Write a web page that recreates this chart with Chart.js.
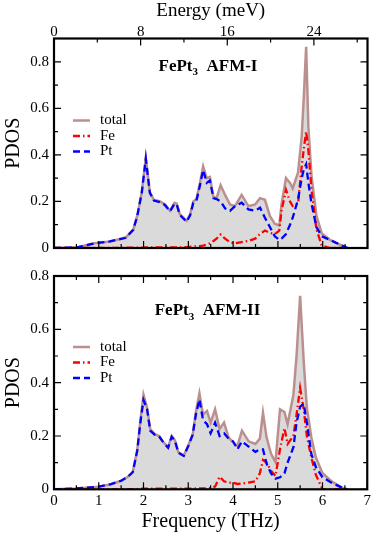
<!DOCTYPE html>
<html>
<head>
<meta charset="utf-8">
<script src="https://cdn.jsdelivr.net/npm/chart.js@4"></script>
<style>
  body { margin: 0; background: #fff; }
  canvas { position: absolute; left: 0; }
  #topChart { top: 0; }
  #bottomChart { top: 262px; }
</style>
</head>
<body>
<canvas id="topChart" width="374" height="262"></canvas>
<canvas id="bottomChart" width="374" height="274"></canvas>
<script>
// frequency grid (THz) and PDOS values, panel AFM-I
const freqTop = [0, 0.5, 0.9, 1.25, 1.6, 1.77, 1.86, 1.96, 2.05, 2.14, 2.23, 2.37, 2.48, 2.59, 2.69, 2.74, 2.81, 2.96, 3.04, 3.11, 3.18, 3.26, 3.33, 3.41, 3.48, 3.56, 3.63, 3.72, 3.82, 3.93, 4.04, 4.19, 4.34, 4.49, 4.6, 4.71, 4.82, 4.93, 5.03, 5.08, 5.18, 5.27, 5.33, 5.45, 5.53, 5.58, 5.63, 5.68, 5.75, 5.86, 5.98, 6.16, 6.3, 6.46, 6.55];
const totalTop = [0, 0.002, 0.02, 0.028, 0.045, 0.079, 0.14, 0.24, 0.387, 0.24, 0.207, 0.2, 0.187, 0.16, 0.194, 0.19, 0.145, 0.117, 0.145, 0.2, 0.21, 0.28, 0.35, 0.3, 0.305, 0.22, 0.214, 0.27, 0.228, 0.187, 0.18, 0.228, 0.18, 0.187, 0.214, 0.207, 0.138, 0.104, 0.097, 0.187, 0.3, 0.28, 0.256, 0.325, 0.477, 0.657, 0.864, 0.52, 0.31, 0.138, 0.062, 0.035, 0.022, 0.008, 0];
const feTop = [0, 0, 0, 0, 0.001, 0.001, 0.002, 0.002, 0.003, 0.003, 0.003, 0.003, 0.003, 0.003, 0.003, 0.003, 0.003, 0.004, 0.005, 0.006, 0.007, 0.008, 0.01, 0.015, 0.02, 0.03, 0.04, 0.058, 0.04, 0.025, 0.02, 0.025, 0.03, 0.04, 0.06, 0.075, 0.065, 0.06, 0.075, 0.16, 0.25, 0.2, 0.18, 0.19, 0.35, 0.43, 0.5, 0.42, 0.25, 0.08, 0.01, 0, 0, 0, 0];
const ptTop = [0, 0.002, 0.02, 0.028, 0.044, 0.078, 0.138, 0.238, 0.383, 0.237, 0.204, 0.197, 0.184, 0.157, 0.19, 0.187, 0.142, 0.113, 0.14, 0.194, 0.203, 0.27, 0.335, 0.28, 0.29, 0.214, 0.21, 0.2, 0.17, 0.16, 0.18, 0.195, 0.166, 0.16, 0.173, 0.13, 0.09, 0.05, 0.035, 0.04, 0.06, 0.1, 0.13, 0.21, 0.3, 0.34, 0.36, 0.28, 0.19, 0.09, 0.05, 0.035, 0.022, 0.008, 0];

// panel AFM-II
const freqBottom = [0, 0.5, 1.0, 1.25, 1.5, 1.65, 1.76, 1.86, 1.93, 2.0, 2.08, 2.15, 2.25, 2.35, 2.45, 2.55, 2.63, 2.7, 2.78, 2.9, 3.0, 3.1, 3.17, 3.25, 3.33, 3.42, 3.5, 3.6, 3.7, 3.8, 3.9, 4.0, 4.1, 4.2, 4.35, 4.5, 4.6, 4.67, 4.75, 4.85, 4.95, 5.05, 5.15, 5.22, 5.35, 5.42, 5.5, 5.58, 5.65, 5.75, 5.85, 6.0, 6.2, 6.45, 6.55];
const totalBottom = [0, 0.003, 0.01, 0.018, 0.032, 0.047, 0.065, 0.146, 0.257, 0.355, 0.306, 0.226, 0.207, 0.2, 0.176, 0.158, 0.2, 0.185, 0.139, 0.127, 0.164, 0.207, 0.29, 0.36, 0.28, 0.294, 0.25, 0.3, 0.226, 0.25, 0.195, 0.176, 0.163, 0.22, 0.18, 0.17, 0.19, 0.287, 0.195, 0.133, 0.102, 0.3, 0.29, 0.244, 0.355, 0.5, 0.726, 0.48, 0.306, 0.195, 0.12, 0.06, 0.03, 0.005, 0];
const feBottom = [0, 0, 0, 0, 0, 0, 0.001, 0.001, 0.002, 0.002, 0.002, 0.002, 0.002, 0.002, 0.002, 0.002, 0.002, 0.002, 0.002, 0.002, 0.002, 0.002, 0.003, 0.003, 0.003, 0.004, 0.005, 0.01, 0.047, 0.03, 0.025, 0.025, 0.02, 0.022, 0.025, 0.03, 0.06, 0.11, 0.1, 0.07, 0.05, 0.15, 0.23, 0.17, 0.2, 0.28, 0.38, 0.3, 0.2, 0.12, 0.055, 0, 0, 0, 0];
const ptBottom = [0, 0.003, 0.01, 0.018, 0.032, 0.047, 0.064, 0.145, 0.25, 0.335, 0.3, 0.22, 0.205, 0.198, 0.174, 0.156, 0.197, 0.183, 0.137, 0.125, 0.162, 0.205, 0.28, 0.337, 0.26, 0.244, 0.21, 0.25, 0.2, 0.21, 0.19, 0.18, 0.15, 0.18, 0.16, 0.14, 0.15, 0.15, 0.096, 0.06, 0.04, 0.045, 0.06, 0.1, 0.158, 0.25, 0.31, 0.32, 0.25, 0.133, 0.084, 0.045, 0.025, 0.005, 0];

// ticks
const freqTicks = [0, 1, 2, 3, 4, 5, 6, 7];
const freqMinor = [0.5, 1.5, 2.5, 3.5, 4.5, 5.5, 6.5];
const energyTicks = [0, 8, 16, 24];
const energyMinor = [4, 12, 20, 28];
const yTicks = [0, 0.2, 0.4, 0.6, 0.8];
const yMinor = [0.1, 0.3, 0.5, 0.7];

const seriesLabels = ["total", "Fe", "Pt"];
const MEV_PER_THZ = 4.13567;
const FONT = '"Liberation Serif", "DejaVu Serif", serif';

function pts(xs, ys) {
  return xs.map((x, i) => ({ x: x, y: ys[i] }));
}

// frame, inward ticks, panel title, legend
const framePlugin = {
  id: "frame",
  afterDraw(chart, args, o) {
    const { ctx, chartArea: a, scales } = chart;
    const xs = scales.x, ys = scales.y;
    ctx.save();
    ctx.strokeStyle = "#000";
    ctx.lineWidth = 1.2;
    const MAJ = 7, MIN = 4;
    function vt(px, len) {
      ctx.beginPath();
      ctx.moveTo(px, a.bottom); ctx.lineTo(px, a.bottom - len);
      if (!o.topEnergy) { ctx.moveTo(px, a.top); ctx.lineTo(px, a.top + len); }
      ctx.stroke();
    }
    freqTicks.forEach(v => vt(xs.getPixelForValue(v), MAJ));
    freqMinor.forEach(v => vt(xs.getPixelForValue(v), MIN));
    if (o.topEnergy) {
      const es = scales.xTop;
      const et = (v, len) => {
        const px = es.getPixelForValue(v);
        ctx.beginPath(); ctx.moveTo(px, a.top); ctx.lineTo(px, a.top + len); ctx.stroke();
      };
      energyTicks.forEach(v => et(v, MAJ));
      energyMinor.forEach(v => et(v, MIN));
    }
    function ht(v, len) {
      const py = ys.getPixelForValue(v);
      ctx.beginPath();
      ctx.moveTo(a.left, py); ctx.lineTo(a.left + len, py);
      ctx.moveTo(a.right, py); ctx.lineTo(a.right - len, py);
      ctx.stroke();
    }
    yTicks.forEach(v => ht(v, MAJ));
    yMinor.forEach(v => ht(v, MIN));
    ctx.lineWidth = 2.2;
    ctx.strokeRect(a.left, a.top, a.right - a.left, a.bottom - a.top);

    // panel title
    ctx.fillStyle = "#000";
    ctx.textBaseline = "alphabetic";
    ctx.font = "bold 17px " + FONT;
    const w1 = ctx.measureText("FePt").width;
    const w3 = ctx.measureText("  " + o.title).width;
    ctx.font = "bold 11px " + FONT;
    const w2 = ctx.measureText("3").width;
    let tx = o.titleX - (w1 + w2 + w3) / 2;
    ctx.font = "bold 17px " + FONT;
    ctx.fillText("FePt", tx, o.titleY);
    ctx.font = "bold 11px " + FONT;
    ctx.fillText("3", tx + w1, o.titleY + 4.5);
    ctx.font = "bold 17px " + FONT;
    ctx.fillText("  " + o.title, tx + w1 + w2, o.titleY);

    // legend
    const styles = [
      { c: "#bc8f8f", d: [] },
      { c: "#ff0000", d: [7, 3, 1.5, 3] },
      { c: "#0000ff", d: [7, 4] }
    ];
    ctx.font = "15px " + FONT;
    ctx.textBaseline = "middle";
    seriesLabels.forEach((lab, i) => {
      const y = o.legendY + i * 15.5;
      ctx.strokeStyle = styles[i].c;
      ctx.lineWidth = 2.5;
      ctx.setLineDash(styles[i].d);
      ctx.beginPath(); ctx.moveTo(73, y); ctx.lineTo(90, y); ctx.stroke();
      ctx.setLineDash([]);
      ctx.fillStyle = "#000";
      ctx.fillText(lab, 100, y);
    });
    ctx.restore();
  }
};

function makeDatasets(f, tot, fe, pt) {
  return [
    { label: seriesLabels[0], data: pts(f, tot), borderColor: "#bc8f8f", borderWidth: 2.5,
      backgroundColor: "#dadada", fill: "origin", order: 3 },
    { label: seriesLabels[1], data: pts(f, fe), borderColor: "#ff0000", borderWidth: 2.3,
      borderDash: [7, 3, 1.5, 3], fill: false, order: 2 },
    { label: seriesLabels[2], data: pts(f, pt), borderColor: "#0000ff", borderWidth: 2.3,
      borderDash: [7, 4], fill: false, order: 1 }
  ];
}

function yAxis(max) {
  return {
    type: "linear", position: "left", min: 0, max: max,
    afterBuildTicks: s => { s.ticks = yTicks.map(v => ({ value: v })); },
    afterFit: s => { s.width = 54; },
    grid: { display: false, drawTicks: false },
    border: { display: false },
    ticks: { padding: 5, color: "#000", font: { family: FONT, size: 15 },
      callback: v => v === 0 ? "0" : v.toFixed(1) },
    title: { display: true, text: "PDOS", color: "#000", padding: { top: 2, bottom: 0 },
      font: { family: FONT, size: 20 } }
  };
}

const common = {
  responsive: false,
  animation: false,
  elements: { point: { radius: 0 }, line: { tension: 0 } },
  plugins: { legend: { display: false }, tooltip: { enabled: false } }
};

new Chart(document.getElementById("topChart"), {
  type: "line",
  data: { datasets: makeDatasets(freqTop, totalTop, feTop, ptTop) },
  options: Object.assign({}, common, {
    layout: { padding: { right: 6.5, top: 0, left: 0, bottom: 0 } },
    plugins: Object.assign({}, common.plugins, {
      frame: { topEnergy: true, title: "AFM-I", titleX: 208, titleY: 70.7, legendY: 120.5 }
    }),
    scales: {
      x: { type: "linear", position: "bottom", min: 0, max: 7,
        afterFit: s => { s.height = 7; },
        grid: { display: false, drawTicks: false }, border: { display: false },
        ticks: { display: false } },
      xTop: { type: "linear", position: "top", min: 0, max: 7 * MEV_PER_THZ,
        afterBuildTicks: s => { s.ticks = energyTicks.map(v => ({ value: v })); },
        afterFit: s => { s.height = 38.5; },
        grid: { display: false, drawTicks: false }, border: { display: false },
        ticks: { padding: -3, color: "#000", font: { family: FONT, size: 15 } },
        title: { display: true, text: "Energy (meV)", color: "#000", padding: { top: 0, bottom: 0 },
          font: { family: FONT, size: 19 } } },
      y: yAxis(0.9)
    }
  }),
  plugins: [framePlugin]
});

new Chart(document.getElementById("bottomChart"), {
  type: "line",
  data: { datasets: makeDatasets(freqBottom, totalBottom, feBottom, ptBottom) },
  options: Object.assign({}, common, {
    layout: { padding: { right: 6.5, top: 11.3, left: 0, bottom: 0 } },
    plugins: Object.assign({}, common.plugins, {
      frame: { topEnergy: false, title: "AFM-II", titleX: 207.5, titleY: 53, legendY: 85 }
    }),
    scales: {
      x: { type: "linear", position: "bottom", min: 0, max: 7,
        afterBuildTicks: s => { s.ticks = freqTicks.map(v => ({ value: v })); },
        afterFit: s => { s.height = 46.7; },
        grid: { display: false, drawTicks: false }, border: { display: false },
        ticks: { padding: 3, color: "#000", maxRotation: 0, font: { family: FONT, size: 15 } },
        title: { display: true, text: "Frequency (THz)", color: "#000", padding: { top: 0, bottom: 2 },
          font: { family: FONT, size: 20 } } },
      y: yAxis(0.8)
    }
  }),
  plugins: [framePlugin]
});
</script>
</body>
</html>
